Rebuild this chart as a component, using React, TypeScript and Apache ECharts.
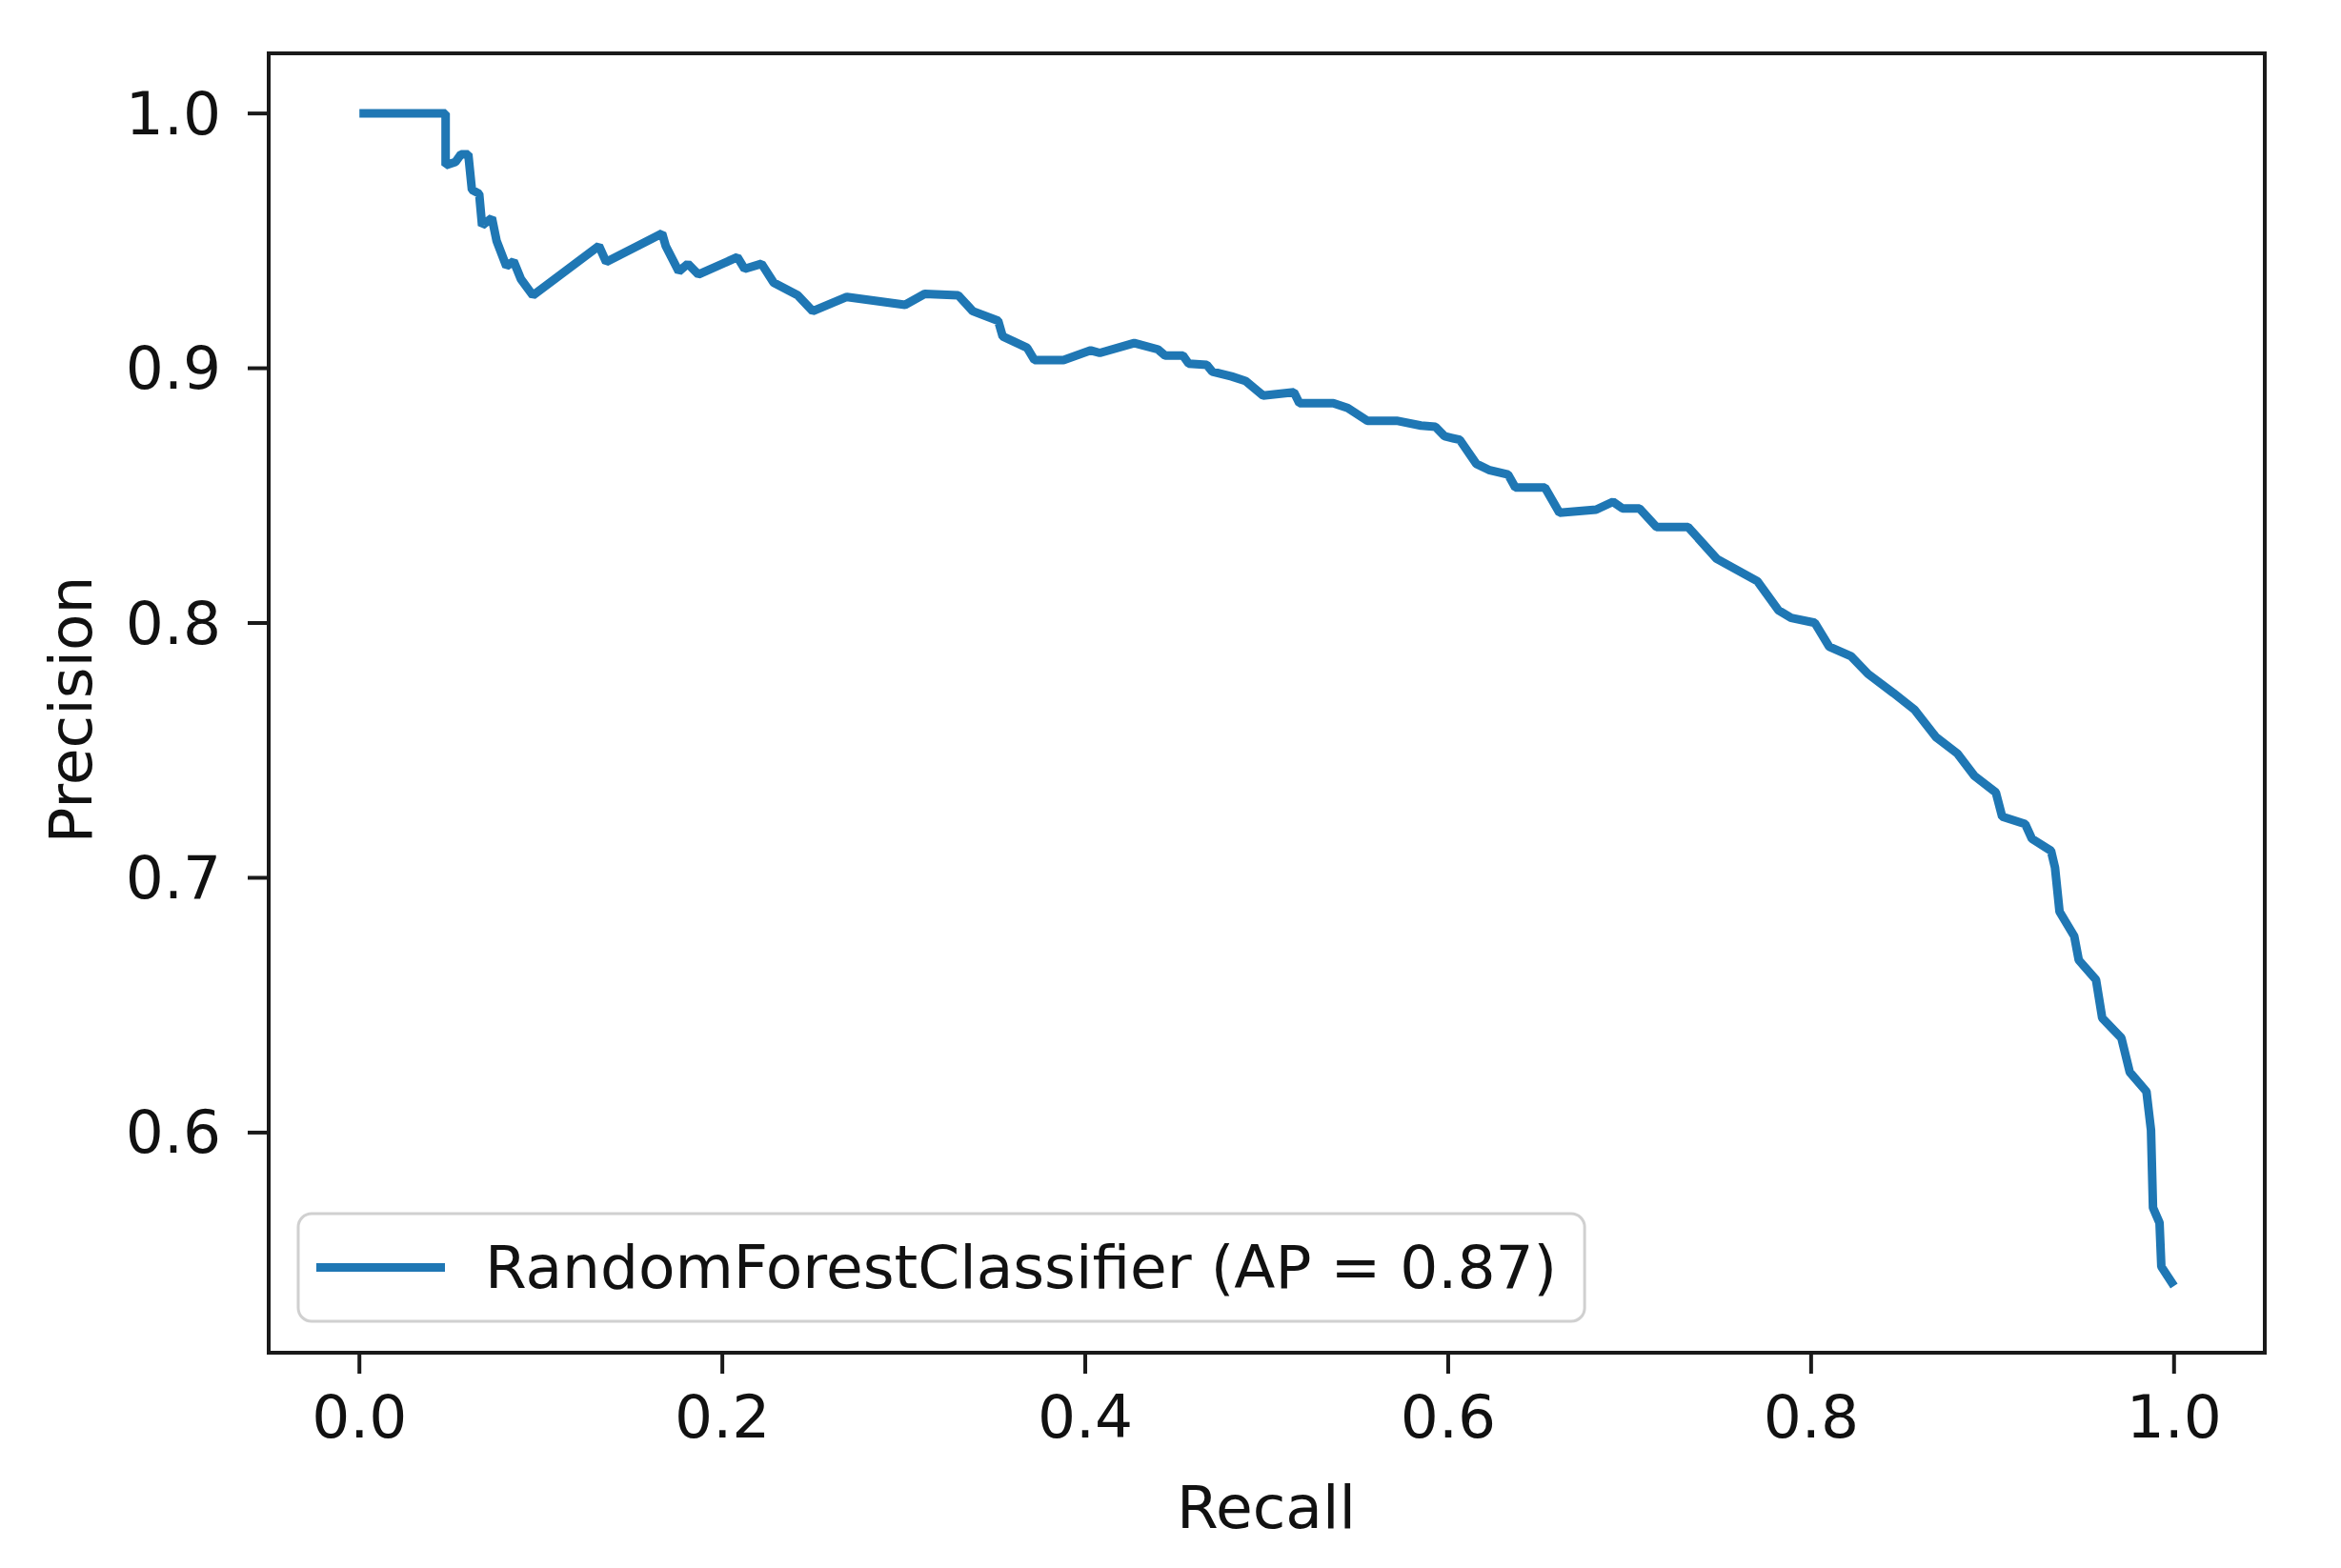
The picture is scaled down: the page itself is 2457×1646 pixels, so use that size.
import React, { useEffect, useRef } from "react";
import * as echarts from "echarts";

const recall: number[] = [
  0, 0.0475, 0.0475, 0.053, 0.056, 0.06, 0.062, 0.066, 0.0676, 0.073, 0.0756, 0.081, 0.085, 0.089,
  0.0956, 0.132, 0.136, 0.1668, 0.1688, 0.176, 0.181, 0.1868, 0.2083, 0.2123, 0.2216, 0.2283,
  0.2416, 0.2498, 0.2686, 0.3007, 0.3115, 0.33, 0.338, 0.352, 0.3545, 0.368, 0.372, 0.388, 0.403,
  0.408, 0.427, 0.44, 0.444, 0.4538, 0.457, 0.467, 0.47, 0.4806, 0.4884, 0.498, 0.515, 0.518,
  0.5367, 0.5446, 0.5555, 0.5716, 0.585, 0.593, 0.598, 0.6064, 0.6155, 0.6224, 0.633, 0.637,
  0.6533, 0.6613, 0.6815, 0.6908, 0.696, 0.7054, 0.7148, 0.7322, 0.748, 0.7704, 0.782, 0.789,
  0.802, 0.81, 0.822, 0.8314, 0.8454, 0.857, 0.8687, 0.8806, 0.89, 0.9018, 0.9053, 0.918, 0.9217,
  0.9322, 0.9344, 0.9369, 0.945, 0.9475, 0.957, 0.9604, 0.971, 0.9756, 0.9848, 0.9873, 0.9884,
  0.992, 0.993, 1.0,
];

const precision: number[] = [
  1.0, 1.0, 0.9797, 0.981, 0.984, 0.984, 0.97, 0.9685, 0.956, 0.959, 0.95, 0.94, 0.942, 0.935,
  0.9286, 0.948, 0.9417, 0.9529, 0.948, 0.938, 0.941, 0.9368, 0.9436, 0.939, 0.941, 0.9336,
  0.9286, 0.9224, 0.928, 0.9249, 0.9292, 0.9286, 0.9224, 0.9186, 0.9125, 0.908, 0.9032, 0.9032,
  0.907, 0.906, 0.9099, 0.9074, 0.905, 0.905, 0.9018, 0.9013, 0.8987, 0.8968, 0.895, 0.8893,
  0.8906, 0.8863, 0.8863, 0.8844, 0.8794, 0.8794, 0.8775, 0.877, 0.8733, 0.8719, 0.8625, 0.8601,
  0.8583, 0.8532, 0.8532, 0.8433, 0.8445, 0.8476, 0.845, 0.845, 0.8377, 0.8377, 0.8252, 0.8164,
  0.805, 0.802, 0.8001, 0.7907, 0.787, 0.78, 0.7725, 0.766, 0.7553, 0.7488, 0.74, 0.7335, 0.724,
  0.7211, 0.7153, 0.7106, 0.704, 0.6867, 0.6771, 0.6677, 0.66, 0.645, 0.6371, 0.6237, 0.6161,
  0.601, 0.5705, 0.5646, 0.5474, 0.5398,
];

const xTicks: number[] = [0, 0.2, 0.4, 0.6, 0.8, 1.0];
const yTicks: number[] = [0.6, 0.7, 0.8, 0.9, 1.0];
const seriesName = "RandomForestClassifier (AP = 0.87)";
const xTitle = "Recall";
const yTitle = "Precision";

export default function App() {
  const ref = useRef<HTMLDivElement>(null);
  useEffect(() => {
    if (!ref.current) return;
    const chart = echarts.init(ref.current, undefined, { renderer: "svg" });
    const font = "DejaVu Sans";
    const fs = 63;
    const txt = "#111";
    const axisColor = "#1a1a1a";
    const gridLeft = 282;
    const gridTop = 56;
    const gridW = 2095;
    const gridH = 1364;
    const tickLen = 22;
    const data = recall.map((r, i) => [r, precision[i]]);
    const titles = [
      {
        id: "xTitle",
        type: "text",
        x: 1329,
        y: 1582,
        style: {
          text: xTitle,
          fontFamily: font,
          fontSize: fs,
          fill: txt,
          textAlign: "center",
          textVerticalAlign: "middle",
        },
      },
      {
        id: "yTitle",
        type: "text",
        x: 74,
        y: 745,
        rotation: Math.PI / 2,
        style: {
          text: yTitle,
          fontFamily: font,
          fontSize: fs,
          fill: txt,
          textAlign: "center",
          textVerticalAlign: "middle",
        },
      },
    ];
    chart.setOption({
      animation: false,
      backgroundColor: "#ffffff",
      grid: {
        left: gridLeft,
        top: gridTop,
        width: gridW,
        height: gridH,
        show: true,
        borderColor: axisColor,
        borderWidth: 4,
        backgroundColor: "transparent",
      },
      xAxis: {
        type: "value",
        min: -0.05,
        max: 1.05,
        splitLine: { show: false },
        axisLine: { show: true, onZero: false, lineStyle: { color: axisColor, width: 4 } },
        axisTick: { show: false },
        axisLabel: {
          show: true,
          customValues: xTicks,
          margin: 36,
          fontFamily: font,
          fontSize: fs,
          color: txt,
          formatter: (v: number) => v.toFixed(1),
        },
      },
      yAxis: {
        type: "value",
        min: 0.5136,
        max: 1.0236,
        splitLine: { show: false },
        axisLine: { show: true, onZero: false, lineStyle: { color: axisColor, width: 4 } },
        axisTick: { show: false },
        axisLabel: {
          show: true,
          customValues: yTicks,
          margin: 50,
          fontFamily: font,
          fontSize: fs,
          color: txt,
          formatter: (v: number) => v.toFixed(1),
        },
      },
      legend: {
        show: true,
        left: 313,
        top: 1274,
        orient: "horizontal",
        padding: [25, 29, 25, 19],
        itemWidth: 135,
        itemHeight: 9,
        itemGap: 10,
        icon: "rect",
        backgroundColor: "rgba(255,255,255,0.8)",
        borderColor: "#d0d0d0",
        borderWidth: 3,
        borderRadius: 14,
        textStyle: {
          fontFamily: font,
          fontSize: fs,
          color: txt,
          lineHeight: 63,
          padding: [0, 0, 0, 37],
        },
        data: [seriesName],
      },
      graphic: titles,
      series: [
        {
          name: seriesName,
          type: "line",
          data,
          showSymbol: false,
          symbol: "none",
          lineStyle: { color: "#1f77b4", width: 9 },
          itemStyle: { color: "#1f77b4" },
          z: 3,
        },
      ],
    });
    const bottom = gridTop + gridH;
    const ticks: any[] = [];
    xTicks.forEach((v, i) => {
      const px = chart.convertToPixel({ xAxisIndex: 0 }, v) as number;
      ticks.push({
        id: "xt" + i,
        type: "line",
        shape: { x1: px, y1: bottom, x2: px, y2: bottom + tickLen },
        style: { stroke: axisColor, lineWidth: 4 },
        z: 10,
      });
    });
    yTicks.forEach((v, i) => {
      const py = chart.convertToPixel({ yAxisIndex: 0 }, v) as number;
      ticks.push({
        id: "yt" + i,
        type: "line",
        shape: { x1: gridLeft - tickLen, y1: py, x2: gridLeft, y2: py },
        style: { stroke: axisColor, lineWidth: 4 },
        z: 10,
      });
    });
    chart.setOption({ graphic: [...titles, ...ticks] });
    return () => chart.dispose();
  }, []);
  return (
    <div
      ref={ref}
      style={{ position: "fixed", left: 0, top: 0, width: 2457, height: 1646, background: "#fff" }}
    />
  );
}
